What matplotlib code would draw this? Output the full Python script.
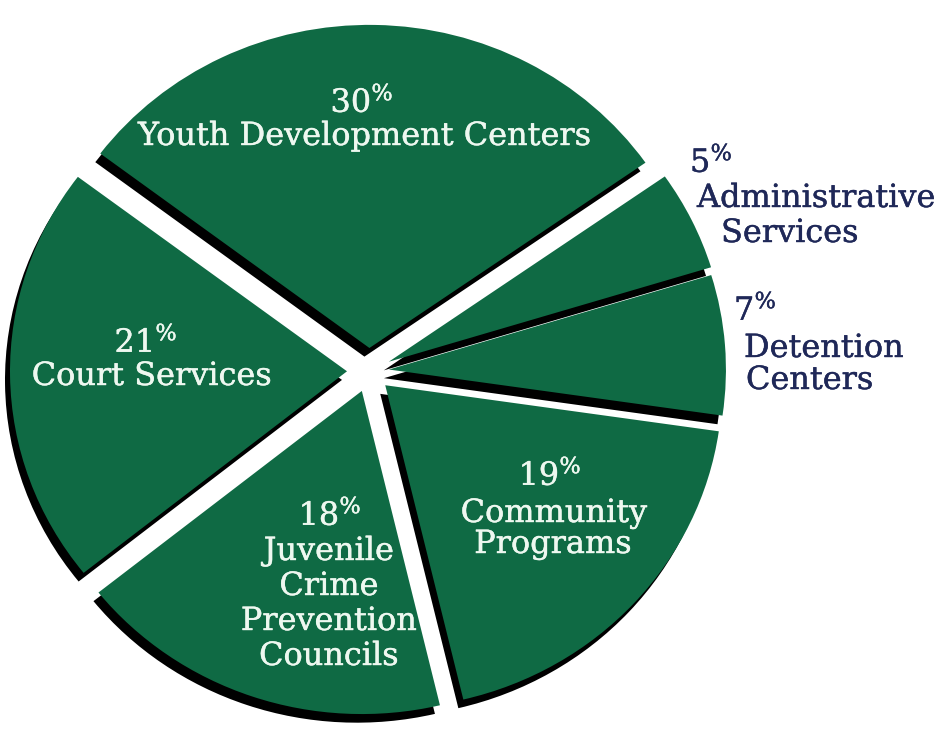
import matplotlib.pyplot as plt
import matplotlib.patheffects as pe

# budget shares, clockwise from the top wedge
categories = ['Youth Development Centers', 'Administrative Services', 'Detention Centers',
              'Community Programs', 'Juvenile Crime Prevention Councils', 'Court Services']
shares = [30, 5, 7, 19, 18, 21]
label_lines = [['Youth Development Centers'],
               ['Administrative', 'Services'],
               ['Detention', 'Centers'],
               ['Community', 'Programs'],
               ['Juvenile', 'Crime', 'Prevention', 'Councils'],
               ['Court Services']]

GREEN = '#0f6a44'
NAVY = '#1f2858'
LIGHT = '#eef8f0'
YS = 1.043  # pie is a bit wider than tall in the original

plt.rcParams['mathtext.fontset'] = 'dejavuserif'

fig = plt.figure(figsize=(9.4, 7.29), dpi=100)
ax = fig.add_axes([0, 0, 1, 1])


def px(x, y):
    return x, (729 - y) * YS


center = px(369, 371)
radius = 337
explode = [24, 22, 20, 22, 22, 22]

# black "thickness" under each slice
ax.pie(shares, radius=radius, center=(center[0] - 5, center[1] - 9), explode=explode,
       startangle=143, counterclock=False, colors=['black'] * len(shares),
       wedgeprops=dict(linewidth=0), frame=True)
ax.pie(shares, radius=radius, center=center, explode=explode,
       startangle=143, counterclock=False, colors=[GREEN] * len(shares),
       wedgeprops=dict(linewidth=0), frame=True)

ax.set_aspect('auto')
ax.set_xlim(0, 940)
ax.set_ylim(0, 729 * YS)
ax.axis('off')

inside = dict(color=LIGHT, family='DejaVu Serif', fontsize=23, ha='center', va='baseline',
              path_effects=[pe.withStroke(linewidth=0.3, foreground=LIGHT)])
outside = dict(color=NAVY, family='DejaVu Serif', fontsize=23, ha='left', va='baseline',
               path_effects=[pe.withStroke(linewidth=0.3, foreground=NAVY)])


def pct(v):
    return f'{v}' + r'$^{\%}$'


# Youth Development Centers
ax.text(*px(362, 112), pct(shares[0]), **inside)
ax.text(*px(365, 145), label_lines[0][0], **inside)

# Court Services
ax.text(*px(146, 352), pct(shares[5]), **inside)
ax.text(*px(152, 385), label_lines[5][0], **inside)

# Juvenile Crime Prevention Councils
ax.text(*px(330, 525), pct(shares[4]), **inside)
for i, line in enumerate(label_lines[4]):
    ax.text(*px(329, 560 + i * 35), line, **inside)

# Community Programs
ax.text(*px(550, 485), pct(shares[3]), **inside)
ax.text(*px(554, 522), label_lines[3][0], **inside)
ax.text(*px(553, 553), label_lines[3][1], **inside)

# Administrative Services
ax.text(*px(690, 172), pct(shares[1]), **outside)
ax.text(*px(697, 207), label_lines[1][0], **outside)
ax.text(*px(721, 242), label_lines[1][1], **outside)

# Detention Centers
ax.text(*px(734, 320), pct(shares[2]), **outside)
ax.text(*px(744, 357), label_lines[2][0], **outside)
ax.text(*px(746, 389), label_lines[2][1], **outside)

fig.savefig('out.png', dpi=100, facecolor='white')
